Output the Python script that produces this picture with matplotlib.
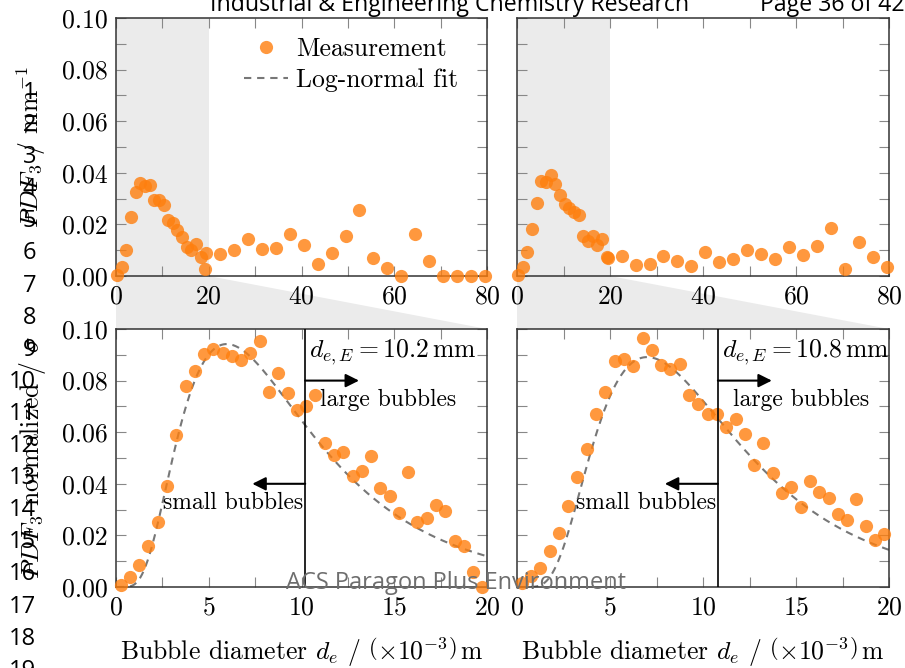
import numpy as np
import matplotlib
matplotlib.use("Agg")
import matplotlib.pyplot as plt
from matplotlib.patches import Polygon
from matplotlib.ticker import MultipleLocator, FormatStrFormatter

plt.rcParams.update({
    "font.family": "serif",
    "font.serif": ["cmr10"],
    "mathtext.fontset": "cm",
    "axes.unicode_minus": False,
    "axes.formatter.use_mathtext": True,
})

# full range PDFs: 1 mm bins up to 20 mm, then 3 mm bins
top_x = [0.25, 1.25, 2.25, 3.25, 4.25, 5.25, 6.25, 7.25, 8.25, 9.25,
         10.25, 11.25, 12.25, 13.25, 14.25, 15.25, 16.25, 17.25, 18.25, 19.25,
         19.5, 22.5, 25.5, 28.5, 31.5, 34.5, 37.5, 40.5, 43.5, 46.5, 49.5,
         52.5, 55.5, 58.5, 61.5, 64.5, 67.5, 70.5, 73.5, 76.5, 79.5]
top_left_y = [0.0004, 0.0035, 0.0101, 0.0230, 0.0325, 0.0359, 0.0350, 0.0354, 0.0295, 0.0294,
              0.0275, 0.0217, 0.0206, 0.0177, 0.0151, 0.0111, 0.0101, 0.0125, 0.0072, 0.0026,
              0.0090, 0.0084, 0.0101, 0.0142, 0.0106, 0.0110, 0.0164, 0.0121, 0.0048, 0.0089,
              0.0154, 0.0257, 0.0071, 0.0031, 0.0000, 0.0163, 0.0059, 0.0000, 0.0000, 0.0000,
              0.0000]
top_right_y = [0.0005, 0.0034, 0.0092, 0.0182, 0.0284, 0.0369, 0.0364, 0.0390, 0.0356, 0.0314,
               0.0281, 0.0265, 0.0249, 0.0235, 0.0155, 0.0135, 0.0156, 0.0120, 0.0145, 0.0075,
               0.0071, 0.0076, 0.0044, 0.0048, 0.0076, 0.0058, 0.0037, 0.0094, 0.0054, 0.0067,
               0.0102, 0.0084, 0.0067, 0.0112, 0.0081, 0.0115, 0.0186, 0.0027, 0.0133, 0.0072,
               0.0036]

# zoomed, normalized PDFs: 0.5 mm bins
bot_x = [0.25, 0.75, 1.25, 1.75, 2.25, 2.75, 3.25, 3.75, 4.25, 4.75,
         5.25, 5.75, 6.25, 6.75, 7.25, 7.75, 8.25, 8.75, 9.25, 9.75,
         10.25, 10.75, 11.25, 11.75, 12.25, 12.75, 13.25, 13.75, 14.25, 14.75,
         15.25, 15.75, 16.25, 16.75, 17.25, 17.75, 18.25, 18.75, 19.25, 19.75]
bot_left_y = [0.0008, 0.0037, 0.0085, 0.0160, 0.0251, 0.0393, 0.0589, 0.0778, 0.0836, 0.0902,
              0.0924, 0.0908, 0.0895, 0.0879, 0.0907, 0.0955, 0.0756, 0.0829, 0.0753, 0.0685,
              0.0702, 0.0744, 0.0558, 0.0512, 0.0523, 0.0432, 0.0450, 0.0509, 0.0385, 0.0351,
              0.0285, 0.0444, 0.0253, 0.0269, 0.0318, 0.0296, 0.0180, 0.0160, 0.0059, 0.0001]
bot_right_y = [0.0014, 0.0043, 0.0075, 0.0141, 0.0209, 0.0314, 0.0426, 0.0534, 0.0669, 0.0756,
               0.0875, 0.0882, 0.0857, 0.0964, 0.0919, 0.0860, 0.0844, 0.0863, 0.0743, 0.0709,
               0.0669, 0.0669, 0.0621, 0.0651, 0.0592, 0.0474, 0.0557, 0.0442, 0.0363, 0.0389,
               0.0311, 0.0411, 0.0370, 0.0344, 0.0282, 0.0260, 0.0340, 0.0238, 0.0182, 0.0205]

# log-normal fit parameters (mu, sigma) and equivalent diameter d_e,E in mm
fit_params = [(2.14, 0.595), (2.248, 0.55)]
d_eE = [10.2, 10.8]

ORANGE = "#ff7f0e"
GREY_SHADE = "#ebebeb"
FIT_GREY = "#777777"


def lognormal(x, mu, sigma):
    return np.exp(-(np.log(x) - mu) ** 2 / (2 * sigma ** 2)) / (x * sigma * np.sqrt(2 * np.pi))


def style_axes(ax, xmajor, xminor, ylabels=True):
    ax.xaxis.set_major_locator(MultipleLocator(xmajor))
    ax.xaxis.set_minor_locator(MultipleLocator(xminor))
    ax.yaxis.set_major_locator(MultipleLocator(0.02))
    ax.yaxis.set_minor_locator(MultipleLocator(0.01))
    ax.yaxis.set_major_formatter(FormatStrFormatter("%.2f"))
    ax.tick_params(which="both", direction="in", top=True, right=True,
                   length=7, width=0.8, color="#888888", labelsize=18.5, pad=6)
    ax.tick_params(axis="y", labelleft=ylabels)
    for sp in ax.spines.values():
        sp.set_color("#333333")
        sp.set_linewidth(1.1)


W, H = 905, 668
fig = plt.figure(figsize=(W / 100, H / 100), dpi=100)


def px_rect(x0, y0, x1, y1):
    return [x0 / W, 1 - y1 / H, (x1 - x0) / W, (y1 - y0) / H]


ax_tl = fig.add_axes(px_rect(116, 18, 487, 276))
ax_tr = fig.add_axes(px_rect(517, 18, 889, 276))
ax_bl = fig.add_axes(px_rect(116, 329, 487, 587))
ax_br = fig.add_axes(px_rect(517, 329, 889, 587))

handles = None
for ax_t, ax_b, ty, by, (mu, sg), dE, lab in [
        (ax_tl, ax_bl, top_left_y, bot_left_y, fit_params[0], d_eE[0], True),
        (ax_tr, ax_br, top_right_y, bot_right_y, fit_params[1], d_eE[1], False)]:
    # full range
    ax_t.axvspan(0, 20, color=GREY_SHADE, lw=0, zorder=0)
    ax_t.plot(top_x, ty, "o", color=ORANGE, alpha=0.8, ms=9.5, mew=0, clip_on=False, zorder=3)
    ax_t.set_xlim(0, 80)
    ax_t.set_ylim(0, 0.10)
    style_axes(ax_t, 20, 10, lab)

    # zoomed range 0-20 mm
    pts, = ax_b.plot(bot_x, by, "o", color=ORANGE, alpha=0.8, ms=9.5, mew=0,
                     clip_on=False, zorder=3, label="Measurement")
    xf = np.linspace(0.05, 20, 400)
    fit, = ax_b.plot(xf, lognormal(xf, mu, sg), color=FIT_GREY, lw=1.5,
                     dashes=(3.5, 2.8), zorder=2, label="Log-normal fit")
    ax_b.set_xlim(0, 20)
    ax_b.set_ylim(0, 0.10)
    style_axes(ax_b, 5, 2.5, lab)
    ax_b.set_xlabel(r"Bubble diameter $d_e$ / $\left(\times10^{-3}\right)\,\mathrm{m}$",
                    fontsize=18.5, labelpad=12)
    handles = [pts, fit]

    # split between small and large bubbles
    ax_b.axvline(dE, color="k", lw=1.2, zorder=4)
    ax_b.text(dE + 0.2, 0.091, r"$d_{e,E} = %.1f\,\mathrm{mm}$" % dE,
              fontsize=18.5, ha="left", va="center")
    ax_b.annotate("", xy=(dE + 2.9, 0.08), xytext=(dE, 0.08),
                  arrowprops=dict(arrowstyle="-|>", color="k", lw=1.5,
                                  shrinkA=0, shrinkB=0, mutation_scale=20))
    ax_b.text(dE + 0.8, 0.0725, "large bubbles", fontsize=17, ha="left", va="center")
    ax_b.annotate("", xy=(dE - 2.85, 0.04), xytext=(dE, 0.04),
                  arrowprops=dict(arrowstyle="-|>", color="k", lw=1.5,
                                  shrinkA=0, shrinkB=0, mutation_scale=20))
    ax_b.text(dE - 0.1, 0.0326, "small bubbles", fontsize=17, ha="right", va="center")

    # zoom wedge joining the 0-20 mm band to the lower panel
    p0 = ax_t.transData.transform((0, 0))
    p1 = ax_t.transData.transform((20, 0))
    q1 = ax_b.transAxes.transform((1, 1))
    q0 = ax_b.transAxes.transform((0, 1))
    inv = fig.transFigure.inverted()
    corners = inv.transform(np.array([p0, p1, q1, q0]))
    fig.patches.append(Polygon(corners, closed=True, transform=fig.transFigure,
                               facecolor=GREY_SHADE, edgecolor="none", zorder=-1))

ax_tl.set_ylabel(r"$PDF_3$ / $\mathrm{mm}^{-1}$", fontsize=18.5, labelpad=10)
ax_bl.set_ylabel(r"$PDF_3$ normalized / $\sigma$", fontsize=18.5, labelpad=10)
ax_tl.legend(handles=handles, loc="upper right", frameon=False, fontsize=18.5,
             handlelength=1.7, handletextpad=0.3, labelspacing=0.27,
             borderaxespad=0.3, bbox_to_anchor=(0.97, 0.995))

# manuscript page furniture
sans = ["Open Sans", "DejaVu Sans"]
fig.text(210 / W, 1 - 11 / H, "Industrial & Engineering Chemistry Research",
         family=sans, fontsize=16.7, ha="left", va="baseline")
fig.text(905 / W, 1 - 11 / H, "Page 36 of 42", family=sans, fontsize=16.7,
         ha="right", va="baseline")
fig.text(456 / W, 1 - 583 / H, "ACS Paragon Plus Environment", family=sans,
         fontsize=17, color="#6e6e6e", ha="center", va="center")
for n in range(1, 20):
    fig.text(36 / W, 1 - (93 + (n - 1) * 32.1) / H, str(n), family=sans,
             fontsize=17, ha="right", va="center")

fig.savefig("out.png", dpi=100)
